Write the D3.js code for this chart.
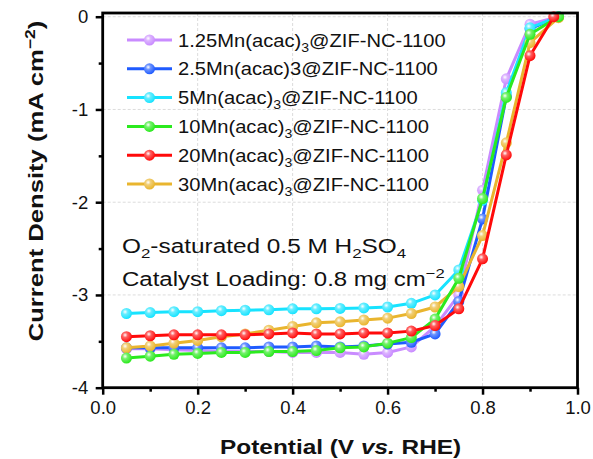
<!DOCTYPE html>
<html>
<head>
<meta charset="utf-8">
<script src="https://cdn.jsdelivr.net/npm/d3@7/dist/d3.min.js"></script>
<style>
  html, body { margin: 0; padding: 0; background: #fff; }
  svg { display: block; font-family: "Liberation Sans", Arial, sans-serif; }
</style>
</head>
<body>
<svg id="chart" width="593" height="459"></svg>
<script>
// LSV polarization curves, current density (mA cm^-2) vs potential (V vs. RHE)
const potential = [0.05, 0.10, 0.15, 0.20, 0.25, 0.30, 0.35, 0.40, 0.45, 0.50,
                   0.55, 0.60, 0.65, 0.70, 0.75, 0.80, 0.85, 0.90];
const endPotential = [0.96, 0.96, 0.96, 0.96, 0.95, 0.96];

const seriesNames = ["1.25Mn(acac)3@ZIF-NC-1100", "2.5Mn(acac)3@ZIF-NC-1100", "5Mn(acac)3@ZIF-NC-1100",
                     "10Mn(acac)3@ZIF-NC-1100", "20Mn(acac)3@ZIF-NC-1100", "30Mn(acac)3@ZIF-NC-1100"];
const seriesColors = ["#C98BFF", "#1F5BFF", "#17E3FF", "#2BEA1E", "#FF0A0A", "#E9B52E"];

const j125 = [-3.58, -3.58, -3.59, -3.60, -3.61, -3.61, -3.61, -3.62, -3.62, -3.62, -3.64, -3.62, -3.56, -3.34, -3.00, -1.87, -0.67, -0.08, 0.0];
const j25  = [-3.57, -3.57, -3.57, -3.57, -3.57, -3.57, -3.56, -3.56, -3.55, -3.56, -3.55, -3.53, -3.51, -3.42, -3.07, -2.18, -0.86, -0.13, 0.0];
const j5   = [-3.20, -3.19, -3.18, -3.18, -3.17, -3.165, -3.16, -3.15, -3.15, -3.145, -3.14, -3.13, -3.09, -3.00, -2.73, -1.98, -0.82, -0.12, 0.0];
const j10  = [-3.68, -3.66, -3.64, -3.63, -3.62, -3.62, -3.61, -3.61, -3.60, -3.57, -3.56, -3.52, -3.46, -3.26, -2.82, -1.96, -0.87, -0.19, 0.0];
const j20  = [-3.45, -3.44, -3.43, -3.43, -3.43, -3.43, -3.42, -3.41, -3.42, -3.42, -3.41, -3.41, -3.39, -3.33, -3.15, -2.61, -1.49, -0.42, 0.0];
const j30  = [-3.57, -3.55, -3.52, -3.49, -3.45, -3.42, -3.38, -3.34, -3.30, -3.29, -3.27, -3.25, -3.20, -3.13, -2.91, -2.36, -1.36, -0.28, -0.01];

const currentSets = [j125, j25, j5, j10, j20, j30];
// drawing order (later on top)
const drawOrder = [0, 1, 2, 5, 3, 4];

const xTicks = [0.0, 0.2, 0.4, 0.6, 0.8, 1.0];
const yTicks = [0, -1, -2, -3, -4];

const svg = d3.select("#chart");
const plotLeft = 102.7, plotRight = 577.5, plotTop = 13, plotBottom = 387.7;

const x = d3.scaleLinear().domain([0, 1]).range([plotLeft, plotRight]);
const y = d3.scaleLinear().domain([-4, 0.04]).range([plotBottom, plotTop]);

// glossy marker gradients
const defs = svg.append("defs");
seriesColors.forEach((c, i) => {
  const g = defs.append("radialGradient").attr("id", "ball" + i)
    .attr("cx", "0.38").attr("cy", "0.35").attr("r", "0.65");
  g.append("stop").attr("offset", "0").attr("stop-color", "#ffffff");
  g.append("stop").attr("offset", "0.35").attr("stop-color", d3.interpolateRgb(c, "#fff")(0.35));
  g.append("stop").attr("offset", "1").attr("stop-color", c);
});
defs.append("clipPath").attr("id", "plotclip").append("rect")
  .attr("x", plotLeft).attr("y", plotTop - 6).attr("width", plotRight - plotLeft + 6).attr("height", plotBottom - plotTop + 6);

// gridlines
const grid = svg.append("g").attr("stroke", "#dcdcdc").attr("stroke-width", 1).attr("stroke-dasharray", "3,2");
xTicks.filter(v => v > 0 && v < 1).forEach(v => grid.append("line").attr("x1", x(v)).attr("x2", x(v)).attr("y1", plotTop).attr("y2", plotBottom));
yTicks.filter(v => v > -4).forEach(v => grid.append("line").attr("x1", plotLeft).attr("x2", plotRight).attr("y1", y(v)).attr("y2", y(v)));

// curves
const line = d3.line().x(d => x(d[0])).y(d => y(d[1]));
const plot = svg.append("g").attr("clip-path", "url(#plotclip)");
drawOrder.forEach(i => {
  const xs = potential.concat([endPotential[i]]);
  const pts = currentSets[i].map((v, k) => [xs[k], v]);
  const g = plot.append("g");
  g.append("path").attr("d", line(pts)).attr("fill", "none")
    .attr("stroke", seriesColors[i]).attr("stroke-width", 3).attr("stroke-linejoin", "round");
  g.selectAll("circle").data(pts).join("circle")
    .attr("cx", d => x(d[0])).attr("cy", d => y(d[1])).attr("r", 5.5)
    .attr("fill", `url(#ball${i})`);
});

// axes
const isMajorX = d => xTicks.some(t => Math.abs(t - d) < 1e-6);
const xAxis = d3.axisBottom(x).tickValues(d3.range(0, 1.0001, 0.1))
  .tickSize(7).tickFormat(d => isMajorX(d) ? d3.format(".1f")(d) : "");
const xg = svg.append("g").attr("transform", `translate(0,${plotBottom})`).call(xAxis);
xg.selectAll(".tick line").attr("stroke-width", 2.5).attr("y2", d => isMajorX(d) ? 7 : 4);
xg.selectAll(".tick text").attr("font-size", 18.5).attr("fill", "#111").attr("y", 13).attr("dy", "0.71em")
  .attr("font-family", "Liberation Sans, Arial, sans-serif");
xg.select(".domain").remove();

const isMajorY = d => yTicks.some(t => Math.abs(t - d) < 1e-6);
const yAxis = d3.axisLeft(y).tickValues(d3.range(0, -4.0001, -0.5))
  .tickSize(7).tickFormat(d => isMajorY(d) ? String(Math.round(d)) : "");
const yg = svg.append("g").attr("transform", `translate(${plotLeft},0)`).call(yAxis);
yg.selectAll(".tick line").attr("stroke-width", 2.5).attr("x2", d => isMajorY(d) ? -7 : -4);
yg.selectAll(".tick text").attr("font-size", 18.5).attr("fill", "#111").attr("x", -14.5)
  .attr("font-family", "Liberation Sans, Arial, sans-serif");
yg.select(".domain").remove();

// frame
svg.append("rect").attr("x", plotLeft).attr("y", plotTop).attr("width", plotRight - plotLeft).attr("height", plotBottom - plotTop)
  .attr("fill", "none").attr("stroke", "#000").attr("stroke-width", 2.8);

// axis titles (wide lettering)
svg.append("g").attr("transform", `translate(${(plotLeft + plotRight) / 2 + 0.5},454) scale(1.25,1)`)
  .append("text").attr("text-anchor", "middle")
  .attr("font-size", 19.5).attr("font-weight", "bold").attr("fill", "#111")
  .call(t => {
    t.append("tspan").text("Potential (V ");
    t.append("tspan").attr("font-style", "italic").text("vs.");
    t.append("tspan").text(" RHE)");
  });

svg.append("g").attr("transform", `translate(43,181) rotate(-90) scale(1.25,1)`)
  .append("text").attr("text-anchor", "middle").attr("font-size", 20.5).attr("font-weight", "bold").attr("fill", "#111")
  .call(t => {
    t.append("tspan").text("Current Density (mA cm");
    t.append("tspan").attr("font-size", 14).attr("dy", -8.5).text("−2");
    t.append("tspan").attr("dy", 8.5).text(")");
  });

// subscript helper: digit after ")" becomes a subscript in the names
function writeFormula(t, str, size) {
  const m = str.match(/^(.*\))(\d)(@.*)$/);
  if (m) {
    t.append("tspan").text(m[1]);
    t.append("tspan").attr("font-size", size * 0.7).attr("dy", 5).text(m[2]);
    t.append("tspan").attr("dy", -5).text(m[3]);
  } else {
    t.text(str);
  }
}

// legend
const legend = svg.append("g");
seriesNames.forEach((name, i) => {
  const cy = 40 + i * 28.8;
  legend.append("line").attr("x1", 127).attr("x2", 172).attr("y1", cy).attr("y2", cy)
    .attr("stroke", seriesColors[i]).attr("stroke-width", 3);
  legend.append("circle").attr("cx", 149.5).attr("cy", cy).attr("r", 5.5).attr("fill", `url(#ball${i})`);
  const t = legend.append("g").attr("transform", `translate(178,${cy + 6.5}) scale(1.09,1)`)
    .append("text").attr("font-size", 18.5).attr("fill", "#111");
  // the 2.5 sample name is written without a subscript
  if (i === 1) t.text(name); else writeFormula(t, name, 18.5);
});

// conditions
const note1 = svg.append("g").attr("transform", "translate(122,253.3) scale(1.25,1)")
  .append("text").attr("font-size", 19.5).attr("fill", "#111");
note1.append("tspan").text("O");
note1.append("tspan").attr("font-size", 13.5).attr("dy", 5).text("2");
note1.append("tspan").attr("dy", -5).text("-saturated 0.5 M H");
note1.append("tspan").attr("font-size", 13.5).attr("dy", 5).text("2");
note1.append("tspan").attr("dy", -5).text("SO");
note1.append("tspan").attr("font-size", 13.5).attr("dy", 5).text("4");

const note2 = svg.append("g").attr("transform", "translate(122,286) scale(1.23,1)")
  .append("text").attr("font-size", 19.5).attr("fill", "#111");
note2.append("tspan").text("Catalyst Loading: 0.8 mg cm");
note2.append("tspan").attr("font-size", 13.5).attr("dy", -8).text("−2");
</script>
</body>
</html>
